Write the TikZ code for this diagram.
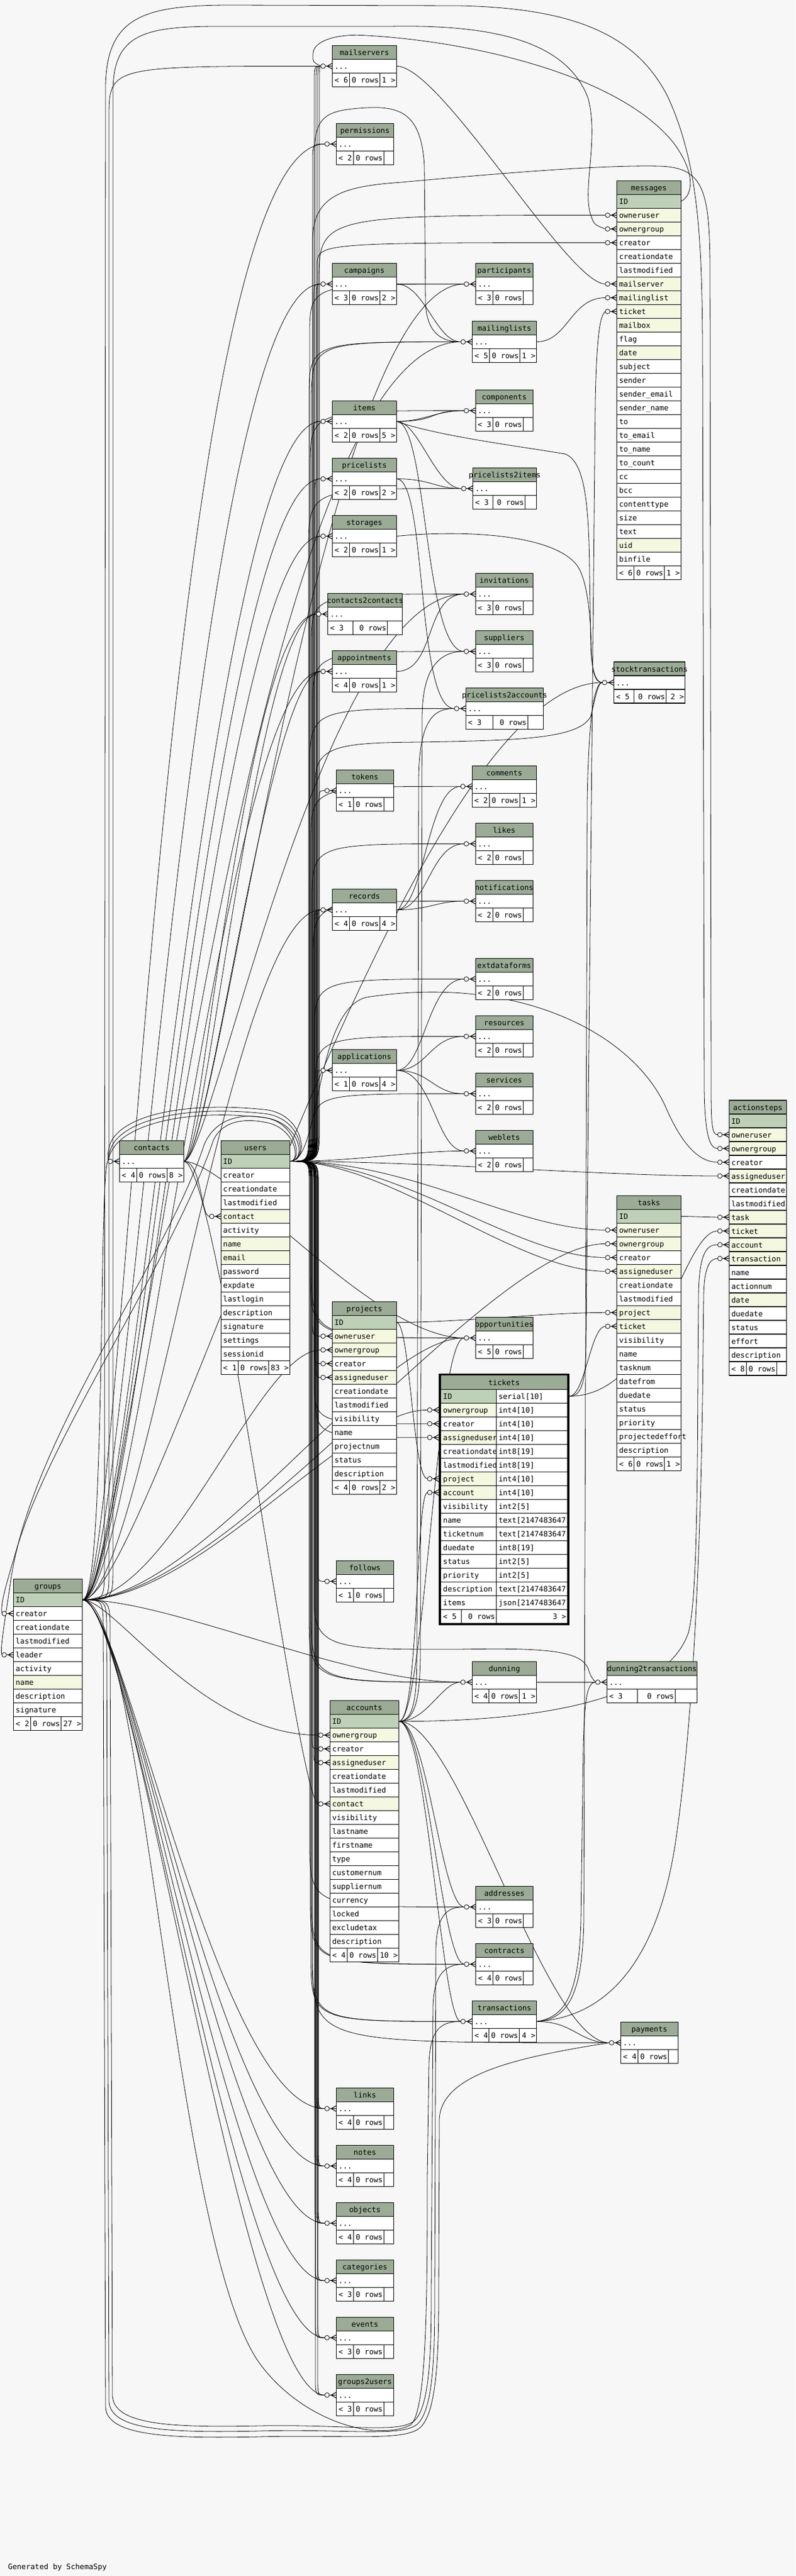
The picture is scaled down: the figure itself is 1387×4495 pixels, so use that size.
\documentclass[tikz,border=0pt]{standalone}
\usepackage{fontspec}
\setmonofont{DejaVu Sans Mono}
\usetikzlibrary{calc}
\definecolor{bgc}{HTML}{F7F7F7}
\definecolor{hdrc}{HTML}{9BAB96}
\definecolor{pkc}{HTML}{BED1B8}
\definecolor{ixc}{HTML}{F5F8E1}
\newcommand\tabfont{\fontsize{13}{15}\selectfont\ttfamily}
\newlength\titlewd
\pgfdeclarelayer{back}
\pgfdeclarelayer{lines}
\pgfsetlayers{back,lines,main}
\tikzset{
  every node/.style={inner sep=0pt, outer sep=0pt, font=\tabfont},
  tb/.style={draw=black, line width=1.2pt},
  rel/.style={draw=black, line width=0.8pt},
  crow/.style={draw=black, line width=1.1pt},
}
% table with "..." row: name, x, y, width, title, left footer, c1, c2, right footer
\newcommand\mydtab[9]{%
\begin{scope}[shift={(#2,#3)}]
 \fill[hdrc] (0,0) rectangle (#4,24);
 \fill[white] (0,24) rectangle (#4,72);
 \draw[tb] (0,0) rectangle (#4,72) (0,24) -- (#4,24) (0,48) -- (#4,48)
   (#7,48) -- (#7,72) ({#7+#8},48) -- ({#7+#8},72);
 \settowidth\titlewd{\tabfont #5}%
 \ifdim\titlewd>\dimexpr#4pt-6pt\relax
   \node[anchor=base west] at (4,17) {#5};
 \else
   \node[anchor=base] at ({#4/2},17) {#5};
 \fi
 \node[anchor=base west] at (4,41) {...};
 \node[anchor=base west] at (4,65) {#6};
 \node[anchor=base east] at ({#7+#8-2},65) {0 rows};
 \node[anchor=base east] at ({#4-2},65) {#9};
 \coordinate (#1-l) at (0,36);
 \coordinate (#1-r) at (#4,36);
 \coordinate (#1-c) at (-20,36);
\end{scope}}
% table with columns: name, x, y, width, title, n, rows, left footer, right footer
\newcommand\myctab[9]{%
\begin{scope}[shift={(#2,#3)}]
 \pgfmathsetmacro\footy{24*(#6+1)}
 \fill[hdrc] (0,0) rectangle (#4,24);
 \foreach \lab/\col [count=\i] in {#7} {
   \path[fill=\col] (0,{24*\i}) rectangle (#4,{24*\i+24});
   \draw[tb] (0,{24*\i}) -- (#4,{24*\i});
   \node[anchor=base west] at (4,{24*\i+17}) {\lab};
   \coordinate (#1-\i-l) at (0,{24*\i+12});
   \coordinate (#1-\i-r) at (#4,{24*\i+12});
   \coordinate (#1-\i-c) at (-20,{24*\i+12});
 }
 \fill[white] (0,\footy) rectangle (#4,{\footy+24});
 \draw[tb] (0,\footy) -- (#4,\footy) (30,\footy) -- (30,{\footy+24}) (83,\footy) -- (83,{\footy+24});
 \draw[tb] (0,0) rectangle (#4,{\footy+24});
 \node[anchor=base] at ({#4/2},17) {#5};
 \node[anchor=base west] at (4,{\footy+17}) {#8};
 \node[anchor=base east] at (81,{\footy+17}) {0 rows};
 \node[anchor=base east] at ({#4-2},{\footy+17}) {#9};
\end{scope}}
% connectors
\newcommand\mycx[4]{\draw[rel] let \p1=(#1), \p2=(#2) in (\p1) .. controls (#3pt,\y1) and (#4pt,\y2) .. (\p2);}
\newcommand\mybus[5]{\draw[rel] let \p1=(#1), \p2=(#2) in (\p1) .. controls (#3pt,\y1) .. (#3pt,{\y1-(#4pt)}) -- (#3pt,{\y2-(#5pt)}) .. controls (#3pt,\y2) .. (\p2);}
\newcommand\myfk[1]{%
 \draw[crow] ($(#1)+(-12,0)$) -- (#1) ($(#1)+(-9,0)$) -- ($(#1)+(0,-5)$) ($(#1)+(-9,0)$) -- ($(#1)+(0,5)$);
 \draw[rel, fill=bgc] ($(#1)+(-16,0)$) circle[radius=4];}
\begin{document}
\begin{tikzpicture}[x=1pt,y=-1pt]
\begin{pgfonlayer}{back}
\fill[bgc] (0,0) rectangle (1387,4495);
\end{pgfonlayer}
\useasboundingbox (0,0) rectangle (1387,4495);

% ---------- tables ----------
\mydtab{mailservers}{579.4}{79.4}{112}{mailservers}{< 6}{30}{53}{1 >}
\mydtab{permissions}{586.3}{215.3}{100}{permissions}{< 2}{30}{53}{}
\mydtab{campaigns}{579.4}{459.6}{112}{campaigns}{< 3}{30}{53}{2 >}
\mydtab{participants}{829.3}{459.7}{100}{participants}{< 3}{30}{53}{}
\mydtab{mailinglists}{823.6}{560.5}{112}{mailinglists}{< 5}{30}{53}{1 >}
\mydtab{items}{579.4}{699.3}{112}{items}{< 2}{30}{53}{5 >}
\mydtab{components}{829.2}{680.6}{100}{components}{< 3}{30}{53}{}
\mydtab{pricelists}{579.4}{799.5}{112}{pricelists}{< 2}{30}{53}{2 >}
\mydtab{ptoi}{824.6}{816.5}{111}{pricelists2items}{< 3}{35}{56}{}
\mydtab{storages}{579.4}{899.6}{112}{storages}{< 2}{30}{53}{1 >}
\mydtab{ctoc}{571.6}{1035.5}{130}{contacts2contacts}{< 3}{44}{60}{}
\mydtab{invitations}{829.2}{1000.6}{100}{invitations}{< 3}{30}{53}{}
\mydtab{suppliers}{829.2}{1100.7}{100}{suppliers}{< 3}{30}{53}{}
\mydtab{appointments}{579.4}{1135.6}{112}{appointments}{< 4}{30}{53}{1 >}
\mydtab{ptoa}{812.2}{1200.4}{135.5}{pricelists2accounts}{< 3}{47}{61}{}
\mydtab{stock}{1070.3}{1155}{124.5}{stocktransactions}{< 5}{35.5}{56}{2 >}
\mydtab{tokens}{586.3}{1343.6}{100}{tokens}{< 1}{30}{53}{}
\mydtab{comments}{823.2}{1336.3}{112.5}{comments}{< 2}{30}{53}{1 >}
\mydtab{likes}{829.2}{1436.4}{100}{likes}{< 2}{30}{53}{}
\mydtab{notifications}{829.2}{1536.5}{100}{notifications}{< 2}{30}{53}{}
\mydtab{records}{579.4}{1551.6}{112}{records}{< 4}{30}{53}{4 >}
\mydtab{extdataforms}{829.2}{1672.4}{100}{extdataforms}{< 2}{30}{53}{}
\mydtab{resources}{829.2}{1772.4}{100}{resources}{< 2}{30}{53}{}
\mydtab{applications}{579.4}{1831.7}{112}{applications}{< 1}{30}{53}{4 >}
\mydtab{services}{829.2}{1872.5}{100}{services}{< 2}{30}{53}{}
\mydtab{weblets}{829.3}{1972.3}{100}{weblets}{< 2}{30}{53}{}
\mydtab{contacts}{208.4}{1990.5}{112}{contacts}{< 4}{30}{53}{8 >}
\mydtab{opportunities}{829.3}{2298.6}{100}{opportunities}{< 5}{30}{53}{}
\mydtab{follows}{586.3}{2723.4}{100}{follows}{< 1}{30}{53}{}
\mydtab{dunning}{823.3}{2899.3}{112.4}{dunning}{< 4}{29}{53.3}{1 >}
\mydtab{dtt}{1058.3}{2899.3}{157}{dunning2transactions}{< 3}{53}{66}{}
\mydtab{addresses}{829.6}{3291.5}{100}{addresses}{< 3}{30}{53}{}
\mydtab{contracts}{829.6}{3391.4}{100}{contracts}{< 4}{30}{53}{}
\mydtab{transactions}{823.4}{3491.3}{112.3}{transactions}{< 4}{29}{53}{4 >}
\mydtab{payments}{1082.4}{3528.5}{100}{payments}{< 4}{30}{53}{}
\mydtab{links}{586.3}{3643.4}{100}{links}{< 4}{30}{53}{}
\mydtab{notes}{586.3}{3743.5}{100}{notes}{< 4}{30}{53}{}
\mydtab{objects}{586.3}{3843.3}{100}{objects}{< 4}{30}{53}{}
\mydtab{categories}{586.3}{3943.4}{100}{categories}{< 3}{30}{53}{}
\mydtab{events}{586.3}{4043.2}{100}{events}{< 3}{30}{53}{}
\mydtab{groupstousers}{586.3}{4143.3}{100}{groups2users}{< 3}{30}{53}{}

\myctab{messages}{1075.5}{315.5}{112}{messages}{27}{ID/pkc, owneruser/ixc, ownergroup/ixc, creator/white, creationdate/white, lastmodified/white, mailserver/ixc, mailinglist/ixc, ticket/ixc, mailbox/ixc, flag/white, date/ixc, subject/white, sender/white, sender\_email/white, sender\_name/white, to/white, to\_email/white, to\_name/white, to\_count/white, cc/white, bcc/white, contenttype/white, size/white, text/white, uid/ixc, binfile/white}{< 6}{1 >}
\myctab{users}{385.2}{1990.5}{120.3}{users}{15}{ID/pkc, creator/white, creationdate/white, lastmodified/white, contact/ixc, activity/white, name/ixc, email/ixc, password/white, expdate/white, lastlogin/white, description/white, signature/white, settings/white, sessionid/white}{< 1}{83 >}
\myctab{projects}{579.4}{2271.5}{112}{projects}{12}{ID/pkc, owneruser/ixc, ownergroup/ixc, creator/white, assigneduser/ixc, creationdate/white, lastmodified/white, visibility/white, name/white, projectnum/white, status/white, description/white}{< 4}{2 >}
\myctab{tasks}{1075.6}{2086.3}{112}{tasks}{18}{ID/pkc, owneruser/ixc, ownergroup/ixc, creator/white, assigneduser/ixc, creationdate/white, lastmodified/white, project/ixc, ticket/ixc, visibility/white, name/white, tasknum/white, datefrom/white, duedate/white, status/white, priority/white, projectedeffort/white, description/white}{< 6}{1 >}
\myctab{actionsteps}{1271.3}{1920}{100.3}{actionsteps}{18}{ID/pkc, owneruser/ixc, ownergroup/ixc, creator/white, assigneduser/ixc, creationdate/white, lastmodified/white, task/ixc, ticket/ixc, account/ixc, transaction/ixc, name/white, actionnum/white, date/ixc, duedate/white, status/white, effort/white, description/white}{< 8}{}
\myctab{groups}{23.4}{2755.6}{120.3}{groups}{9}{ID/pkc, creator/white, creationdate/white, lastmodified/white, leader/white, activity/white, name/ixc, description/white, signature/white}{< 2}{27 >}
\myctab{accounts}{575.3}{2967.7}{120.3}{accounts}{17}{ID/pkc, ownergroup/ixc, creator/white, assigneduser/ixc, creationdate/white, lastmodified/white, contact/ixc, visibility/white, lastname/white, firstname/white, type/white, customernum/white, suppliernum/white, currency/white, locked/white, excludetax/white, description/white}{< 4}{10 >}

% tickets (two columns, thick border)
\begin{scope}[shift={(768.7,2400.3)}]
 \fill[hdrc] (0,0) rectangle (220.6,24);
 \node[anchor=base] at (110.3,17) {tickets};
 \foreach \a/\b/\col [count=\i] in {ID/serial[10]/pkc, ownergroup/int4[10]/ixc, creator/int4[10]/white, assigneduser/int4[10]/ixc, creationdate/int8[19]/white, lastmodified/int8[19]/white, project/int4[10]/ixc, account/int4[10]/ixc, visibility/int2[5]/white, name/text[2147483647]/white, ticketnum/text[2147483647]/white, duedate/int8[19]/white, status/int2[5]/white, priority/int2[5]/white, description/text[2147483647]/white, items/json[2147483647]/white} {
   \path[fill=\col] (0,{24*\i}) rectangle (96.6,{24*\i+24});
   \fill[white] (96.6,{24*\i}) rectangle (220.6,{24*\i+24});
   \draw[tb] (0,{24*\i}) -- (220.6,{24*\i}) (96.6,{24*\i}) -- (96.6,{24*\i+24});
   \node[anchor=base west] at (4,{24*\i+17}) {\a};
   \node[anchor=base west] at (100.6,{24*\i+17}) {\b};
   \coordinate (tickets-\i-l) at (-3.4,{24*\i+12});
   \coordinate (tickets-\i-c) at (-23.4,{24*\i+12});
   \coordinate (tickets-\i-r) at (224,{24*\i+12});
 }
 \fill[white] (0,408) rectangle (220.6,432);
 \draw[tb] (0,408) -- (220.6,408) (35.6,408) -- (35.6,432) (96.6,408) -- (96.6,432);
 \node[anchor=base west] at (4,425) {< 5};
 \node[anchor=base east] at (94.6,425) {0 rows};
 \node[anchor=base east] at (218.6,425) {3 >};
 \draw[line width=3.4pt] (-1.7,-1.7) rectangle (222.3,433.7);
\end{scope}

\node[anchor=base west] (gen) at (14,4483) {Generated by SchemaSpy};

\coordinate (U) at (users-1-r);
\coordinate (G) at (groups-1-r);
\coordinate (C) at (contacts-r);
\coordinate (A) at (accounts-1-r);
\coordinate (P) at (projects-1-r);
\coordinate (T) at (tickets-1-r);
\coordinate (TK) at (tasks-1-r);

% ---------- connectors ----------
\begin{pgfonlayer}{lines}
% users, upwards
\mybus{U}{mailservers-c}{548}{-60}{30}
\mybus{U}{mailservers-c}{551}{-62}{32}
\mybus{U}{mailservers-c}{554}{-64}{34}
\mybus{U}{mailservers-c}{557}{-66}{36}
\mybus{U}{permissions-c}{545}{-60}{30}
\mybus{U}{campaigns-c}{547}{-60}{30}
\mybus{U}{campaigns-c}{552}{-62}{34}
\mybus{U}{participants-c}{540}{-60}{90}
\mybus{U}{mailinglists-c}{539}{-60}{100}
\mybus{U}{mailinglists-c}{543}{-62}{110}
\draw[rel] (U) .. controls (548,2026.5) .. (548,1960) -- (548,270) .. controls (548,200) and (570,192) .. (640,188) .. controls (700,185) and (735,200) .. (740,290) -- (742,530) .. controls (745,590) and (780,596.5) .. (mailinglists-c);
\mybus{U}{messages-2-c}{556}{-60}{120}
\mybus{U}{messages-4-c}{553}{-60}{40}
\mybus{U}{items-c}{546}{-60}{30}
\mybus{U}{components-c}{541}{-60}{100}
\mybus{U}{pricelists-c}{549}{-60}{30}
\mybus{U}{ptoi-c}{538}{-60}{110}
\mybus{U}{storages-c}{552}{-60}{30}
\mybus{U}{ctoc-c}{540}{-60}{25}
\mybus{U}{invitations-c}{543}{-60}{90}
\mybus{U}{suppliers-c}{545}{-60}{100}
\mybus{U}{appointments-c}{548}{-60}{30}
\mybus{U}{appointments-c}{553}{-62}{33}
\mybus{U}{ptoa-c}{540}{-60}{110}
\draw[rel] (U) .. controls (550,2026.5) .. (550,1970) -- (550,1360) .. controls (550,1300) and (600,1296) .. (730,1295) .. controls (900,1292) and (1010,1290) .. (1030,1250) .. controls (1038,1220) and (1042,1191) .. (stock-c);
\mybus{U}{tokens-c}{556}{-60}{30}
\mybus{U}{comments-c}{542}{-60}{100}
\mybus{U}{likes-c}{544}{-60}{100}
\mybus{U}{notifications-c}{546}{-60}{100}
\mybus{U}{records-c}{549}{-50}{30}
\mybus{U}{records-c}{551}{-52}{33}
\mybus{U}{records-c}{554}{-54}{36}
\mybus{U}{extdataforms-c}{548}{-50}{100}
\mybus{U}{resources-c}{550}{-50}{90}
\mybus{U}{applications-c}{553}{-40}{30}
\mybus{U}{services-c}{547}{-40}{70}
\mycx{U}{weblets-c}{620}{720}
\draw[rel] (U) .. controls (545,2026.5) .. (545,1970) -- (545,420) .. controls (545,340) and (600,325) .. (700,318) .. controls (900,300) and (1050,288) .. (1150,290) .. controls (1225,292) and (1237,330) .. (1238,460) -- (1240,1900) .. controls (1240,1965) and (1242,1980) .. (actionsteps-2-c);
\draw[rel] (U) .. controls (560,2026.5) and (548,1760) .. (640,1740) .. controls (900,1700) and (1100,1800) .. (1160,1930) .. controls (1190,2000) and (1220,2028) .. (actionsteps-4-c);
\mycx{U}{actionsteps-5-c}{750}{1050}
\draw[rel] (U) .. controls (535,2026.5) and (525,1958) .. (460,1950) .. controls (330,1935) and (230,1960) .. (200,2000) .. controls (192,2012) .. (contacts-c);
\draw[rel] (U) .. controls (538,2026.5) and (528,1950) .. (460,1943) .. controls (320,1928) and (220,1955) .. (196,1998) .. controls (190,2012) .. (contacts-c);
\draw[rel] (U) .. controls (541,2026.5) and (531,1942) .. (460,1936) .. controls (310,1921) and (210,1950) .. (192,1996) .. controls (188,2012) .. (contacts-c);
\draw[rel] (U) .. controls (525,2026.5) and (515,1972) .. (470,1960) .. controls (420,1948) and (385,1960) .. (372,1990) .. controls (300,2200) and (90,2500) .. (30,2700) .. controls (12,2760) and (0,2800) .. (groups-2-c);
\draw[rel] (U) .. controls (528,2026.5) and (518,1965) .. (470,1952) .. controls (410,1938) and (370,1960) .. (355,2000) .. controls (290,2200) and (60,2500) .. (20,2750) .. controls (5,2850) and (0,2880) .. (groups-5-c);
% users, downwards
\mybus{U}{projects-2-c}{545}{40}{-30}
\mybus{U}{projects-4-c}{548}{40}{-30}
\mybus{U}{projects-5-c}{551}{40}{-30}
\mycx{U}{tasks-2-c}{720}{900}
\mycx{U}{tasks-4-c}{700}{900}
\mycx{U}{tasks-5-c}{680}{900}
\mybus{U}{tickets-3-c}{548}{40}{-80}
\mybus{U}{tickets-4-c}{550}{40}{-80}
\mybus{U}{opportunities-c}{541}{40}{-120}
\mybus{U}{opportunities-c}{543}{40}{-130}
\mybus{U}{follows-c}{554}{40}{-30}
\mybus{U}{accounts-3-c}{544}{40}{-25}
\mybus{U}{accounts-4-c}{547}{40}{-25}
\mybus{U}{dunning-c}{539}{40}{-120}
\mybus{U}{dunning-c}{542}{40}{-130}
\draw[rel] (U) .. controls (548,2026.5) .. (548,2090) -- (548,2800) .. controls (548,2880) and (600,2878) .. (800,2878) .. controls (950,2875) and (1010,2880) .. (1025,2910) .. controls (1030,2925) .. (dtt-c);
\mybus{U}{addresses-c}{540}{40}{-120}
\mybus{U}{contracts-c}{541}{40}{-120}
\mybus{U}{contracts-c}{543}{40}{-125}
\mybus{U}{transactions-c}{542}{40}{-120}
\mybus{U}{transactions-c}{544}{40}{-125}
\mybus{U}{payments-c}{545}{40}{-150}
\mybus{U}{links-c}{549}{40}{-30}
\mybus{U}{links-c}{552}{42}{-33}
\mybus{U}{links-c}{555}{44}{-36}
\mybus{U}{notes-c}{549}{40}{-30}
\mybus{U}{notes-c}{552}{42}{-33}
\mybus{U}{notes-c}{555}{44}{-36}
\mybus{U}{objects-c}{549}{40}{-30}
\mybus{U}{objects-c}{552}{42}{-33}
\mybus{U}{objects-c}{555}{44}{-36}
\mybus{U}{categories-c}{550}{40}{-30}
\mybus{U}{categories-c}{554}{42}{-34}
\mybus{U}{events-c}{550}{40}{-30}
\mybus{U}{events-c}{554}{42}{-34}
\mybus{U}{groupstousers-c}{550}{40}{-30}
\mybus{U}{groupstousers-c}{554}{42}{-34}
% groups
\mybus{G}{mailservers-c}{190}{-50}{90}
\draw[rel] (G) .. controls (197,2791.6) .. (197,2730) -- (197,160) .. controls (197,60) and (250,46) .. (380,46) -- (680,46) .. controls (880,42) and (990,80) .. (1025,170) .. controls (1045,240) and (1015,330) .. (1030,375) .. controls (1036,392) .. (messages-3-c);
\draw[rel] (G) .. controls (182,2791.6) .. (182,2730) -- (184,150) .. controls (186,30) and (250,9) .. (400,9) -- (800,10) .. controls (1000,14) and (1110,60) .. (1165,170) .. controls (1215,280) and (1224,400) .. (1225,600) -- (1228,1900) .. controls (1229,1990) and (1240,2004) .. (actionsteps-3-c);
\mycx{G}{permissions-c}{220}{280}
\mycx{G}{campaigns-c}{225}{330}
\mycx{G}{mailinglists-c}{230}{420}
\mycx{G}{items-c}{230}{360}
\mycx{G}{pricelists-c}{232}{370}
\mycx{G}{storages-c}{235}{380}
\mycx{G}{appointments-c}{240}{390}
\mycx{G}{stock-c}{260}{700}
\mycx{G}{records-c}{250}{400}
\mycx{G}{contacts-c}{185}{172}
\mycx{G}{tasks-3-c}{400}{850}
\mycx{G}{projects-3-c}{300}{450}
\mycx{G}{tickets-2-c}{350}{600}
\mycx{G}{opportunities-c}{350}{650}
\mycx{G}{accounts-2-c}{200}{350}
\mycx{G}{dunning-c}{300}{600}
% groups: loops under the bottom tables, rising again at x 745-765
\draw[rel] (G) .. controls (250,2791.6) and (300,3900) .. (450,4120) .. controls (520,4220) and (650,4262) .. (715,4232) .. controls (745,4212) and (745,4000) .. (745,3800) -- (748,3600) .. controls (750,3540) and (770,3527.3) .. (transactions-c);
\draw[rel] (G) .. controls (192,2791.6) .. (192,2850) -- (196,4180) .. controls (198,4232) and (300,4236) .. (450,4233) .. controls (600,4230) and (690,4246) .. (720,4226) .. controls (750,4205) and (752,4100) .. (752,4000) -- (755,3500) .. controls (757,3440) and (780,3427.4) .. (contracts-c);
\draw[rel] (G) .. controls (186,2791.6) .. (186,2850) -- (190,4190) .. controls (192,4242) and (300,4245) .. (450,4242) .. controls (600,4238) and (695,4252) .. (725,4232) .. controls (757,4210) and (758,4100) .. (758,4000) -- (760,3400) .. controls (762,3340) and (780,3327.5) .. (addresses-c);
\draw[rel] (G) .. controls (180,2791.6) .. (180,2850) -- (184,4200) .. controls (186,4252) and (300,4255) .. (450,4252) .. controls (600,4248) and (700,4260) .. (730,4238) .. controls (763,4215) and (765,4100) .. (765,4000) -- (766,3700) .. controls (767,3620) and (900,3590) .. (payments-c);
\mycx{G}{links-c}{215}{380}
\mycx{G}{notes-c}{220}{390}
\mycx{G}{objects-c}{225}{400}
\mycx{G}{categories-c}{228}{405}
\mycx{G}{events-c}{231}{410}
\mycx{G}{groupstousers-c}{235}{420}
% contacts
\draw[rel] (C) .. controls (352,2026.5) and (350,2122.5) .. (users-5-c);
\mycx{C}{participants-c}{380}{560}
\mycx{C}{ctoc-c}{350}{430}
\mycx{C}{ctoc-c}{360}{450}
\mycx{C}{invitations-c}{370}{560}
\mycx{C}{appointments-c}{365}{470}
\mycx{C}{opportunities-c}{400}{650}
\mycx{C}{accounts-7-c}{380}{520}
% accounts
\mycx{A}{tickets-8-c}{730}{725}
\mycx{A}{opportunities-c}{740}{760}
\mycx{A}{dunning-c}{745}{770}
\mycx{A}{addresses-c}{745}{770}
\mycx{A}{contracts-c}{745}{770}
\mycx{A}{transactions-c}{745}{770}
\mycx{A}{payments-c}{800}{950}
\draw[rel] (A) .. controls (722,3003.7) and (727,2960) .. (727,2880) -- (730,1360) .. controls (731,1250) and (760,1236.4) .. (ptoa-c);
\draw[rel] (A) .. controls (725,3003.7) and (733,2960) .. (733,2880) -- (736,1250) .. controls (737,1160) and (770,1136.7) .. (suppliers-c);
\draw[rel] (A) .. controls (850,3003.7) and (1150,2990) .. (1200,2850) .. controls (1215,2800) and (1216,2600) .. (1217,2400) -- (1218,2260) .. controls (1219,2180) and (1235,2172) .. (actionsteps-10-c);
% projects, tickets, tasks
\mycx{P}{tasks-8-c}{800}{950}
\mycx{P}{tickets-7-c}{715}{720}
\draw[rel] (T) .. controls (1018,2436.7) and (1022,2400) .. (1022,2330) -- (1038,700) .. controls (1040,600) and (1045,550) .. (messages-9-c);
\mycx{T}{tasks-9-c}{1020}{1030}
\mycx{T}{actionsteps-9-c}{1150}{1190}
\draw[rel] (TK) -- (actionsteps-8-c);
% other tables
\mycx{items-r}{components-c}{740}{760}
\mycx{items-r}{components-c}{765}{745}
\mycx{items-r}{ptoi-c}{730}{760}
\mycx{items-r}{suppliers-c}{745}{740}
\draw[rel] (items-r) .. controls (760,760) and (900,778) .. (985,792) .. controls (1020,805) and (1027,880) .. (1028,1000) -- (1030,1120) .. controls (1031,1175) and (1040,1191) .. (stock-c);
\mycx{pricelists-r}{ptoi-c}{750}{760}
\mycx{pricelists-r}{ptoa-c}{745}{725}
\draw[rel] (storages-r) .. controls (800,925) and (960,930) .. (1005,985) .. controls (1025,1010) and (1030,1080) .. (1031,1130) .. controls (1032,1180) and (1040,1191) .. (stock-c);
\draw[rel] (campaigns-r) -- (participants-c);
\mycx{campaigns-r}{mailinglists-c}{740}{760}
\mycx{appointments-r}{invitations-c}{760}{740}
\mycx{records-r}{comments-c}{740}{745}
\mycx{records-r}{likes-c}{745}{750}
\mycx{records-r}{notifications-c}{750}{760}
\mycx{applications-r}{extdataforms-c}{740}{745}
\mycx{applications-r}{resources-c}{745}{750}
\mycx{applications-r}{services-c}{750}{755}
\mycx{applications-r}{weblets-c}{755}{760}
\mycx{mailservers-r}{messages-7-c}{770}{990}
\mycx{mailinglists-r}{messages-8-c}{990}{995}
\draw[rel] (messages-1-r) .. controls (1210,339.5) and (1212,300) .. (1175,250) .. controls (1080,130) and (820,72) .. (640,62) .. controls (585,58) and (548,72) .. (546,92) .. controls (545,108) .. (mailservers-c);
\draw[rel] (dunning-r) -- (dtt-c);
\draw[rel] (transactions-r) .. controls (1060,3520) and (1150,3420) .. (1180,3200) .. controls (1215,2950) and (1224,2600) .. (1226,2350) -- (1227,2260) .. controls (1228,2210) and (1238,2196) .. (actionsteps-11-c);
\draw[rel] (transactions-r) .. controls (990,3520) and (1010,3470) .. (1013,3350) -- (1017,3050) .. controls (1019,2960) and (1025,2935.3) .. (dtt-c);
\draw[rel] (transactions-r) .. controls (995,3524) and (1016,3470) .. (1018,3350) -- (1024,1400) .. controls (1026,1260) and (1035,1191) .. (stock-c);
\mycx{transactions-r}{payments-c}{1000}{1010}
\end{pgfonlayer}

% ---------- crow's foot ends ----------
\foreach \n in {mailservers-l, permissions-l, campaigns-l, participants-l, mailinglists-l,
  messages-2-l, messages-3-l, messages-4-l, messages-7-l, messages-8-l, messages-9-l,
  items-l, components-l, pricelists-l, ptoi-l, storages-l, ctoc-l, invitations-l, suppliers-l,
  appointments-l, ptoa-l, stock-l, tokens-l, comments-l, likes-l, notifications-l, records-l,
  extdataforms-l, resources-l, applications-l, services-l, weblets-l,
  actionsteps-2-l, actionsteps-3-l, actionsteps-4-l, actionsteps-5-l, actionsteps-8-l,
  actionsteps-9-l, actionsteps-10-l, actionsteps-11-l, contacts-l, users-5-l,
  tasks-2-l, tasks-3-l, tasks-4-l, tasks-5-l, tasks-8-l, tasks-9-l,
  projects-2-l, projects-3-l, projects-4-l, projects-5-l, opportunities-l,
  tickets-2-l, tickets-3-l, tickets-4-l, tickets-7-l, tickets-8-l, follows-l,
  groups-2-l, groups-5-l, dunning-l, dtt-l, accounts-2-l, accounts-3-l, accounts-4-l,
  accounts-7-l, addresses-l, contracts-l, transactions-l, payments-l, links-l, notes-l,
  objects-l, categories-l, events-l, groupstousers-l} {\myfk{\n}}
\end{tikzpicture}
\end{document}
